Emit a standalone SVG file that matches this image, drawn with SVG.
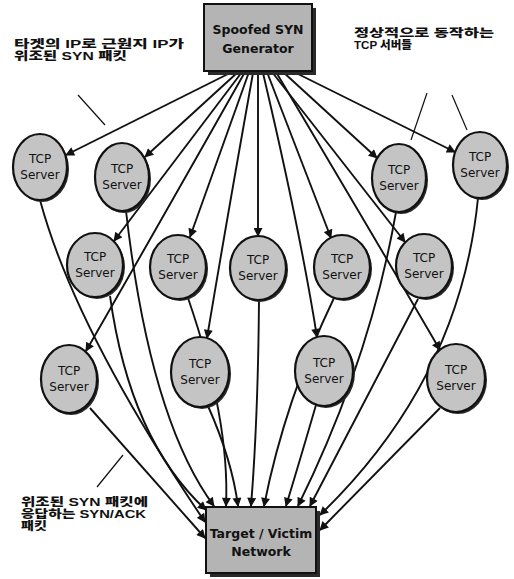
<svg xmlns="http://www.w3.org/2000/svg" width="514" height="579" viewBox="0 0 514 579">
<style>
.bg{fill:#ffffff}
.e{fill:none;stroke:#111;stroke-width:1.9}
.call{fill:none;stroke:#111;stroke-width:1.2}
.srv{fill:#c4c4c4;stroke:#111;stroke-width:2.2}
.sh{fill:#2a2a2a}
.box{fill:#b4b4b4;stroke:#111;stroke-width:2}
.t{font-family:"DejaVu Sans","Liberation Sans",sans-serif;font-size:12px;fill:#111;text-anchor:middle}
.bt{font-family:"DejaVu Sans","Liberation Sans",sans-serif;font-size:12.5px;fill:#111;text-anchor:middle;font-weight:bold}
.k{font-family:"Liberation Sans","Noto Sans CJK KR",sans-serif;font-size:11px;font-weight:900;fill:#111}
</style>
<defs>
<marker id="ah" viewBox="0 0 10 10" refX="9" refY="5" markerWidth="11" markerHeight="9" markerUnits="userSpaceOnUse" orient="auto">
<path d="M0,0 L10,5 L0,10 z" fill="#111"/>
</marker>
</defs>
<rect class="bg" x="0" y="0" width="514" height="579"/>

<g id="connectors">
<!-- generator to servers -->
<path class="e" marker-end="url(#ah)" d="M234,71 L66,155"/>
<path class="e" marker-end="url(#ah)" d="M238,72 L145,157"/>
<path class="e" marker-end="url(#ah)" d="M242,72 L114,241"/>
<path class="e" marker-end="url(#ah)" d="M245,72 Q150,240 86,351"/>
<path class="e" marker-end="url(#ah)" d="M249,72 L190,237"/>
<path class="e" marker-end="url(#ah)" d="M253,73 Q225,230 207,338"/>
<path class="e" marker-end="url(#ah)" d="M258,73 L258,236"/>
<path class="e" marker-end="url(#ah)" d="M263,73 Q300,230 317,337"/>
<path class="e" marker-end="url(#ah)" d="M267,72 L331,238"/>
<path class="e" marker-end="url(#ah)" d="M272,72 L405,242"/>
<path class="e" marker-end="url(#ah)" d="M276,72 Q370,230 440,350"/>
<path class="e" marker-end="url(#ah)" d="M282,71 L377,158"/>
<path class="e" marker-end="url(#ah)" d="M290,70 L455,152"/>
<!-- servers to target -->
<path class="e" marker-end="url(#ah)" d="M40,200 Q75,330 205,522"/>
<path class="e" marker-end="url(#ah)" d="M90,408 L205,538"/>
<path class="e" marker-end="url(#ah)" d="M110,296 Q130,440 206,510"/>
<path class="e" marker-end="url(#ah)" d="M126,211 Q150,420 214,506"/>
<path class="e" marker-end="url(#ah)" d="M188,298 Q230,420 226,506"/>
<path class="e" marker-end="url(#ah)" d="M208,406 Q232,460 238,506"/>
<path class="e" marker-end="url(#ah)" d="M259,300 Q258,420 251,506"/>
<path class="e" marker-end="url(#ah)" d="M334,298 Q285,400 264,506"/>
<path class="e" marker-end="url(#ah)" d="M316,405 Q300,460 286,506"/>
<path class="e" marker-end="url(#ah)" d="M396,212 Q370,360 298,506"/>
<path class="e" marker-end="url(#ah)" d="M418,299 L310,506"/>
<path class="e" marker-end="url(#ah)" d="M478,198 Q460,380 320,515"/>
<path class="e" marker-end="url(#ah)" d="M440,408 L320,530"/>
<!-- callout lines -->
<path class="call" d="M78,95 L105,125"/>
<path class="call" d="M427,93 L411,140"/>
<path class="call" d="M452,95 L467,130"/>
<path class="call" d="M123,455 L97,487"/>
</g>

<g id="generator">
<rect class="sh" x="208" y="8" width="108" height="67"/>
<rect class="box" x="204" y="4" width="108" height="67"/>
<text class="bt" x="258" y="34">Spoofed SYN</text>
<text class="bt" x="258" y="53">Generator</text>
</g>

<g id="target">
<rect class="sh" x="210" y="511" width="110" height="66"/>
<rect class="box" x="206" y="507" width="110" height="66"/>
<text class="bt" x="261" y="538">Target / Victim</text>
<text class="bt" x="261" y="556">Network</text>
</g>

<g id="s1"><ellipse class="sh" cx="42" cy="169" rx="27" ry="33"/><ellipse class="srv" cx="40" cy="167" rx="27" ry="33"/><text class="t" x="40" y="163">TCP</text><text class="t" x="40" y="179">Server</text></g>
<g id="s2"><ellipse class="sh" cx="124" cy="179" rx="27" ry="34"/><ellipse class="srv" cx="122" cy="177" rx="27" ry="34"/><text class="t" x="122" y="173">TCP</text><text class="t" x="122" y="189">Server</text></g>
<g id="s3"><ellipse class="sh" cx="97" cy="267" rx="28" ry="32"/><ellipse class="srv" cx="95" cy="265" rx="28" ry="32"/><text class="t" x="95" y="261">TCP</text><text class="t" x="95" y="277">Server</text></g>
<g id="s4"><ellipse class="sh" cx="180" cy="269" rx="28" ry="32"/><ellipse class="srv" cx="178" cy="267" rx="28" ry="32"/><text class="t" x="178" y="263">TCP</text><text class="t" x="178" y="279">Server</text></g>
<g id="s5"><ellipse class="sh" cx="260" cy="270" rx="28" ry="32"/><ellipse class="srv" cx="258" cy="268" rx="28" ry="32"/><text class="t" x="258" y="264">TCP</text><text class="t" x="258" y="280">Server</text></g>
<g id="s6"><ellipse class="sh" cx="344" cy="269" rx="28" ry="32"/><ellipse class="srv" cx="342" cy="267" rx="28" ry="32"/><text class="t" x="342" y="263">TCP</text><text class="t" x="342" y="279">Server</text></g>
<g id="s7"><ellipse class="sh" cx="426" cy="268" rx="28" ry="32"/><ellipse class="srv" cx="424" cy="266" rx="28" ry="32"/><text class="t" x="424" y="262">TCP</text><text class="t" x="424" y="278">Server</text></g>
<g id="s8"><ellipse class="sh" cx="401" cy="180" rx="27" ry="34"/><ellipse class="srv" cx="399" cy="178" rx="27" ry="34"/><text class="t" x="399" y="174">TCP</text><text class="t" x="399" y="190">Server</text></g>
<g id="s9"><ellipse class="sh" cx="482" cy="167" rx="27" ry="33"/><ellipse class="srv" cx="480" cy="165" rx="27" ry="33"/><text class="t" x="480" y="161">TCP</text><text class="t" x="480" y="177">Server</text></g>
<g id="s10"><ellipse class="sh" cx="71" cy="381" rx="28" ry="34"/><ellipse class="srv" cx="69" cy="379" rx="28" ry="34"/><text class="t" x="69" y="375">TCP</text><text class="t" x="69" y="391">Server</text></g>
<g id="s11"><ellipse class="sh" cx="202" cy="374" rx="29" ry="35"/><ellipse class="srv" cx="200" cy="372" rx="29" ry="35"/><text class="t" x="200" y="368">TCP</text><text class="t" x="200" y="384">Server</text></g>
<g id="s12"><ellipse class="sh" cx="326" cy="373" rx="29" ry="35"/><ellipse class="srv" cx="324" cy="371" rx="29" ry="35"/><text class="t" x="324" y="367">TCP</text><text class="t" x="324" y="383">Server</text></g>
<g id="s13"><ellipse class="sh" cx="458" cy="380" rx="29" ry="34"/><ellipse class="srv" cx="456" cy="378" rx="29" ry="34"/><text class="t" x="456" y="374">TCP</text><text class="t" x="456" y="390">Server</text></g>

<g id="labels">
<text class="k" x="14" y="48" textLength="170" lengthAdjust="spacingAndGlyphs">타겟의 IP로 근원지 IP가</text>
<text class="k" x="14" y="60" textLength="113" lengthAdjust="spacingAndGlyphs">위조된 SYN 패킷</text>
<text class="k" x="354" y="37" textLength="140" lengthAdjust="spacingAndGlyphs">정상적으로 동작하는</text>
<text class="k" x="354" y="49" textLength="58" lengthAdjust="spacingAndGlyphs">TCP 서버들</text>
<text class="k" x="21" y="506" textLength="127" lengthAdjust="spacingAndGlyphs">위조된 SYN 패킷에</text>
<text class="k" x="21" y="518" textLength="125" lengthAdjust="spacingAndGlyphs">응답하는 SYN/ACK</text>
<text class="k" x="21" y="530" textLength="26" lengthAdjust="spacingAndGlyphs">패킷</text>
</g>
</svg>
